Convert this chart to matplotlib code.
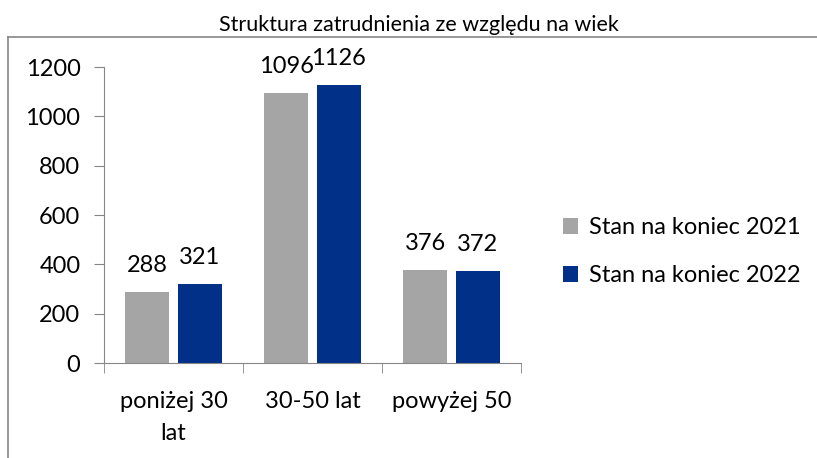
import matplotlib.pyplot as plt
import numpy as np
from matplotlib.lines import Line2D

categories = ["poniżej 30\nlat", "30-50 lat", "powyżej 50"]
values_2021 = [288, 1096, 376]
values_2022 = [321, 1126, 372]
series_labels = ["Stan na koniec 2021", "Stan na koniec 2022"]
colors = ["#A5A5A5", "#003087"]

plt.rcParams["font.family"] = ["Lato", "DejaVu Sans"]

fig = plt.figure(figsize=(8.17, 4.58), dpi=100)
ax = fig.add_axes([0.1273, 0.2074, 0.5104, 0.6463])

x = np.arange(len(categories))
width = 0.317
offset = 0.19
bars1 = ax.bar(x - offset, values_2021, width, color=colors[0], label=series_labels[0])
bars2 = ax.bar(x + offset, values_2022, width, color=colors[1], label=series_labels[1])

for bars in (bars1, bars2):
    for b in bars:
        ax.text(b.get_x() + b.get_width() / 2, b.get_height() + 65, str(int(b.get_height())),
                ha="center", va="bottom", fontsize=17)

ax.set_xlim(-0.5, 2.5)
ax.set_ylim(0, 1200)
ax.set_yticks(range(0, 1201, 200))
ax.set_xticks(x)
ax.set_xticklabels(categories, fontsize=17, linespacing=1.65)
ax.tick_params(axis="x", length=0, pad=20)
ax.tick_params(axis="y", labelsize=17, length=7, color="#868686", pad=10)
ax.set_xticks([-0.5, 0.5, 1.5, 2.5], minor=True)
ax.tick_params(axis="x", which="minor", length=7, color="#868686")

for s in ["top", "right"]:
    ax.spines[s].set_visible(False)
for s in ["left", "bottom"]:
    ax.spines[s].set_color("#868686")

fig.text(0.513, 1 - 25 / 458, "Struktura zatrudnienia ze względu na wiek", ha="center", va="center", fontsize=15.5)

# outer frame (top and left edges visible)
fig.add_artist(Line2D([8 / 817, 1], [1 - 37 / 458] * 2, color="#868686", lw=1.2, transform=fig.transFigure))
fig.add_artist(Line2D([8 / 817] * 2, [0, 1 - 37 / 458], color="#868686", lw=1.2, transform=fig.transFigure))

fig.legend(loc="center left", bbox_to_anchor=(0.663, 0.450), frameon=False, fontsize=17,
           handlelength=0.65, handleheight=0.65, handletextpad=0.45, labelspacing=1.15)

fig.savefig("out.png", dpi=100)
